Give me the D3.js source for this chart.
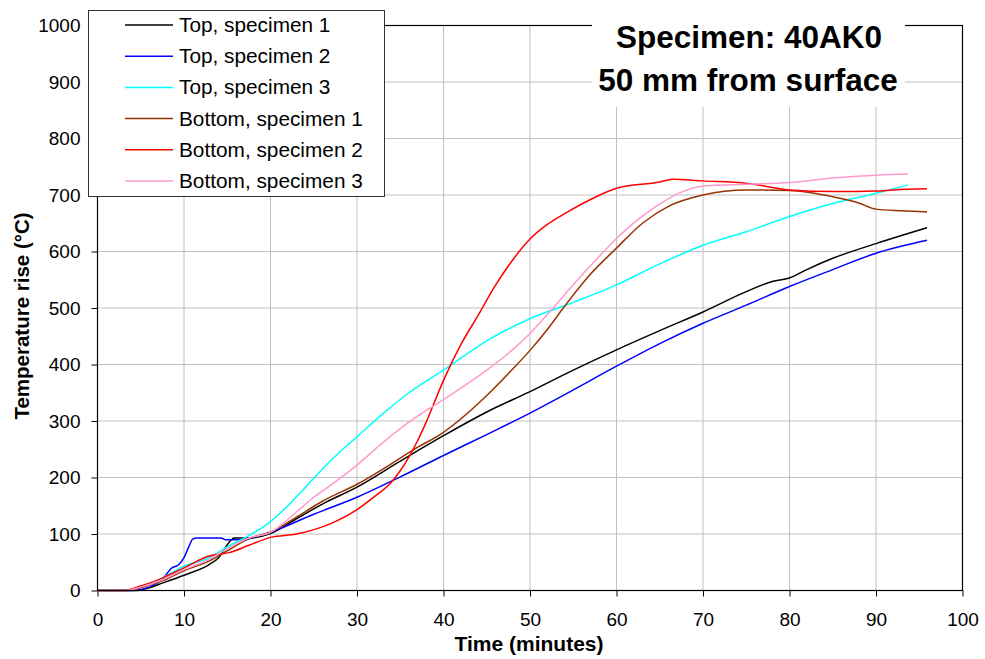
<!DOCTYPE html>
<html>
<head>
<meta charset="utf-8">
<script src="https://cdn.jsdelivr.net/npm/d3@7"></script>
<style>
  body { margin: 0; background: #fff; }
  text { font-family: "Liberation Sans", Arial, sans-serif; }
</style>
</head>
<body>
<script>
// Series data: [time (min), temperature rise (°C)]
var top1 = [[0,0],[4.4,0],[6,5],[7.5,13],[10,27],[12.9,46],[14,58],[15.2,85],[15.8,93],[17.5,93],[20,101],[23,127],[26,153],[30,183],[35,229],[40,274],[45,316],[50,352],[55,390],[60,426],[65,460],[70,493],[75,529],[78,547],[80,553],[82,568],[85,588],[90,614],[95.9,642]];
var top2 = [[0,0],[4,0],[6,6],[7.5,20],[8.6,40],[9.4,46],[10,58],[10.6,79],[11,91],[11.5,93],[14.3,93],[14.8,90],[17.2,90],[17.8,93],[20,103],[25,135],[30,165],[35,201],[40,239],[45,276],[50,314],[55,355],[60,397],[65,437],[70,473],[75,505],[80,538],[85,568],[90,597],[95.9,620]];
var top3 = [[0,0],[3,0],[5,6],[7.5,22],[10,43],[12.9,58],[15.2,79],[17,93],[20,122],[22,150],[24,182],[26,215],[28,245],[30,272],[33,313],[36,350],[40,390],[45,442],[50,481],[55,510],[60,541],[65,578],[70,611],[75,635],[80,662],[85,685],[90,703],[93.7,718]];
var bottom1 = [[0,0],[3.5,0],[5,5],[7.5,17],[10,35],[12.9,52],[15.2,72],[17.5,92],[20,103],[23,130],[26,158],[30,188],[33,215],[36.5,249],[40,280],[45,345],[48,392],[50,425],[52,462],[54,503],[57,560],[60,606],[63,650],[66,680],[70,700],[75,709],[80,708],[85,697],[88,686],[90,675],[93,672],[95.9,670]];
var bottom2 = [[0,0],[3,0],[5,8],[7.5,22],[10,40],[12.9,61],[15.2,67],[17.5,80],[20,94],[23,100],[26.9,118],[30,143],[32,166],[34,192],[35,212],[36,236],[37,265],[38,298],[40,372],[42,435],[44,487],[46,540],[48,585],[50,622],[52,648],[54,667],[57,692],[60,712],[65,723],[66.5,728],[70,725],[75,721],[80,709],[85,706],[90,707],[92,709],[95.9,711]];
var bottom3 = [[0,0],[3,0],[5,6],[7.5,19],[10,37],[12.9,55],[15.2,76],[17.5,93],[20,103],[23,139],[25,165],[27,187],[30,222],[33,262],[36,298],[40,338],[45,390],[47.5,420],[50,455],[52.5,497],[55,541],[57.5,583],[60,623],[62.5,657],[65,684],[67.5,705],[70,716],[75,719],[80,722],[85,730],[90,735],[93.7,737]];

var seriesNames = ["Top, specimen 1", "Top, specimen 2", "Top, specimen 3",
                   "Bottom, specimen 1", "Bottom, specimen 2", "Bottom, specimen 3"];
var seriesData = [top1, top2, top3, bottom1, bottom2, bottom3];
var seriesColors = ["#000000", "#0000ff", "#00ffff", "#993300", "#ff0000", "#ff99cc"];

var xTicks = d3.range(0, 101, 10);
var yTicks = d3.range(0, 1001, 100);

var width = 985, height = 659;
var plotLeft = 97.5, plotRight = 962.5, plotTop = 25.5, plotBottom = 590.5;

var svg = d3.select("body").append("svg")
    .attr("width", width)
    .attr("height", height);

var x = d3.scaleLinear().domain([0, 100]).range([plotLeft, plotRight]);
var y = d3.scaleLinear().domain([0, 1000]).range([plotBottom, plotTop]);

// gridlines
svg.append("g")
    .selectAll("line")
    .data(xTicks.slice(1, -1))
    .enter().append("line")
    .attr("x1", d => x(d)).attr("x2", d => x(d))
    .attr("y1", plotTop).attr("y2", plotBottom)
    .attr("stroke", "#c0c0c0").attr("stroke-width", 1);

svg.append("g")
    .selectAll("line")
    .data(yTicks.slice(1, -1))
    .enter().append("line")
    .attr("x1", plotLeft).attr("x2", plotRight)
    .attr("y1", d => y(d)).attr("y2", d => y(d))
    .attr("stroke", "#c0c0c0").attr("stroke-width", 1);

// axes
var xAxis = svg.append("g")
    .attr("transform", "translate(0," + plotBottom + ")")
    .call(d3.axisBottom(x).tickValues(xTicks).tickFormat(d3.format("d")).tickSize(6).tickPadding(16));
var yAxis = svg.append("g")
    .attr("transform", "translate(" + plotLeft + ",0)")
    .call(d3.axisLeft(y).tickValues(yTicks).tickFormat(d3.format("d")).tickSize(6).tickPadding(11));

[xAxis, yAxis].forEach(function(a) {
    a.select(".domain").remove();
    a.selectAll("line").attr("stroke", "#000");
    a.selectAll("text")
        .attr("fill", "#000")
        .style("font-size", "19px")
        .style("font-family", "'Liberation Sans', Arial, sans-serif");
});

// series lines
var line = d3.line()
    .x(d => x(d[0]))
    .y(d => y(d[1]))
    .curve(d3.curveMonotoneX);

svg.append("g")
    .selectAll("path")
    .data(seriesData)
    .enter().append("path")
    .attr("d", line)
    .attr("fill", "none")
    .attr("stroke", (d, i) => seriesColors[i])
    .attr("stroke-width", 1.5);

// plot frame
svg.append("rect")
    .attr("x", plotLeft).attr("y", plotTop)
    .attr("width", plotRight - plotLeft).attr("height", plotBottom - plotTop)
    .attr("fill", "none")
    .attr("stroke", "#000")
    .attr("stroke-width", 1.2);

// axis titles
svg.append("text")
    .attr("x", (plotLeft + plotRight) / 2 - 1)
    .attr("y", 651)
    .attr("text-anchor", "middle")
    .style("font-size", "21px")
    .style("font-weight", "bold")
    .text("Time (minutes)");

svg.append("text")
    .attr("transform", "translate(29,316) rotate(-90)")
    .attr("text-anchor", "middle")
    .style("font-size", "20.5px")
    .style("font-weight", "bold")
    .text("Temperature rise (°C)");

// title block
svg.append("rect")
    .attr("x", 592).attr("y", 9)
    .attr("width", 313).attr("height", 98)
    .attr("fill", "#fff");

svg.append("text")
    .attr("x", 749).attr("y", 48)
    .attr("text-anchor", "middle")
    .style("font-size", "31.5px")
    .style("font-weight", "bold")
    .text("Specimen: 40AK0");

svg.append("text")
    .attr("x", 748).attr("y", 91)
    .attr("text-anchor", "middle")
    .style("font-size", "31.5px")
    .style("font-weight", "bold")
    .text("50 mm from surface");

// legend
var legend = svg.append("g");
legend.append("rect")
    .attr("x", 88.5).attr("y", 10.5)
    .attr("width", 296).attr("height", 186)
    .attr("fill", "#fff")
    .attr("stroke", "#333")
    .attr("stroke-width", 1);

var rows = legend.selectAll("g.row")
    .data(seriesNames)
    .enter().append("g")
    .attr("transform", (d, i) => "translate(0," + (25 + i * 31.2) + ")");

rows.append("line")
    .attr("x1", 125).attr("x2", 173)
    .attr("y1", 0).attr("y2", 0)
    .attr("stroke", (d, i) => seriesColors[i])
    .attr("stroke-width", 1.5);

rows.append("text")
    .attr("x", 179).attr("y", 7)
    .style("font-size", "20.8px")
    .text(d => d);
</script>
</body>
</html>
